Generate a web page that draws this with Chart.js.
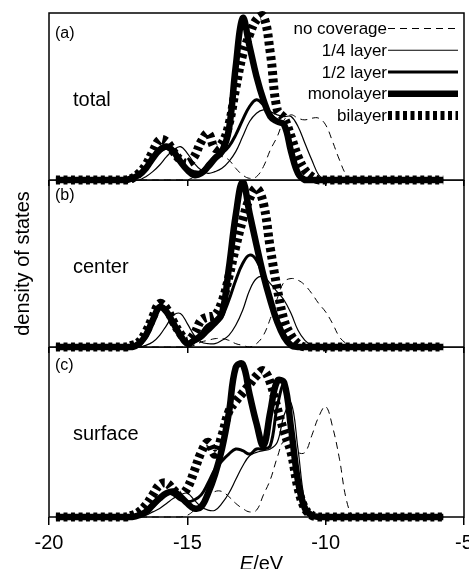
<!DOCTYPE html>
<html>
<head>
<meta charset="utf-8">
<script src="https://cdn.jsdelivr.net/npm/chart.js@4.4.1/dist/chart.umd.min.js"></script>
<style>
  html, body { margin: 0; padding: 0; background: #fff; }
  #wrap { position: relative; width: 469px; height: 569px; overflow: hidden; background: #fff; }
  canvas { position: absolute; left: 0; }
</style>
</head>
<body>
<div id="wrap">
  <canvas id="panelC" width="469" height="222" style="top:347px"></canvas>
  <canvas id="panelB" width="469" height="173" style="top:180px"></canvas>
  <canvas id="panelA" width="469" height="186" style="top:0px"></canvas>
</div>
<script>
// energy grid (eV)
var energies = [-19.75,
  -17.25, -17, -16.75, -16.5, -16.25, -16, -15.75, -15.5, -15.25, -15,
  -14.75, -14.5, -14.25, -14, -13.75, -13.5, -13.25, -13, -12.75, -12.5,
  -12.25, -12, -11.75, -11.5, -11.25, -11, -10.75, -10.5, -10.25, -10,
  -9.75, -9.5, -9.25, -9, -8.75,
  -5.75];

var seriesNames = ['no coverage', '1/4 layer', '1/2 layer', 'monolayer', 'bilayer'];

// (a) total
var totalNone    = [0, 0,0,0,0,0,0,0,0,0,0,      2,5,9,13,14,12,7,3,1,2,        8,18,26,36,39,37,36,37,37,33,  23,12,3,0,0, 0];
var totalQuarter = [0, 0,0,0,2,5,9,14,18,20,16,  10,6,4,5,7,11,17,26,35,40,     42,41,39,38,38,32,22,12,3,0,   0,0,0,0,0, 0];
var totalHalf    = [0, 0,1,3,6,12,17,19,16,11,7, 5,5,10,14,16,20,27,36,44,48,   45,40,35,33,17,4,0,0,0,0,      0,0,0,0,0, 0];
var totalMono    = [0, 0,1,3,7,13,18,20,17,11,6, 3,4,8,13,17,30,68,97,80,62,    48,38,35,33,17,4,0,0,0,0,      0,0,0,0,0, 0];
var totalBi      = [0, 0,1,4,9,17,24,23,17,12,10, 14,23,28,19,22,33,55,75,87,96, 98,76,42,37,26,14,6,2,0,0,    0,0,0,0,0, 0];

// (b) center
var centerNone    = [0, 0,0,0,0,0,0,0,0,0,0,      1,3,4,5,5,4,2,1,0,2,          7,17,29,39,41,40,37,32,26,21,  14,6,2,0,0, 0];
var centerQuarter = [0, 0,0,0,1,3,7,13,19,20,14,  7,3,2,2,4,7,13,22,34,41,      42,38,33,28,20,10,4,1,0,0,     0,0,0,0,0, 0];
var centerHalf    = [0, 0,0,2,7,15,23,20,13,7,3,  3,5,9,13,18,28,40,50,55,52,   42,29,16,7,2,0,0,0,0,0,        0,0,0,0,0, 0];
var centerMono    = [0, 0,0,2,7,16,24,21,14,7,2,  4,7,12,15,20,47,79,99,80,61,  43,28,15,6,1,0,0,0,0,0,        0,0,0,0,0, 0];
var centerBi      = [0, 0,1,3,9,18,26,23,15,8,4,  8,16,18,19,27,42,60,76,89,95, 86,59,35,16,7,2,0,0,0,0,       0,0,0,0,0, 0];

// (c) surface
var surfaceNone    = [0, 0,0,0,0,0,0,0,0,0,1,      4,8,12,15,15,12,8,5,3,4,       13,22,35,45,43,38,38,48,59,65, 53,34,10,0,0, 0];
var surfaceQuarter = [0, 0,0,0,1,3,5,8,11,13,14,   10,6,4,4,8,14,22,30,36,38,     39,40,44,60,67,40,9,2,0,0,     0,0,0,0,0, 0];
var surfaceHalf    = [0, 0,0,1,3,6,10,14,13,10,9,  10,13,20,28,33,37,40,39,37,40, 40,42,65,78,50,20,5,1,0,0,     0,0,0,0,0, 0];
var surfaceMono    = [0, 0,0,1,3,7,11,14,15,12,8,  5,6,14,25,40,61,88,90,72,55,   42,62,80,79,52,21,5,1,0,0,     0,0,0,0,0, 0];
var surfaceBi      = [0, 0,1,3,7,13,19,20,16,13,17, 27,38,44,37,48,62,68,73,78,83, 86,79,64,50,38,17,5,1,0,0,    0,0,0,0,0, 0];

var xTicks = [-20, -15, -10, -5];

Chart.defaults.font.family = '"Liberation Sans", Arial, Helvetica, sans-serif';
Chart.defaults.color = '#000';

var lineStyles = [
  { borderWidth: 1,   borderDash: [7, 5] },
  { borderWidth: 1.2, borderDash: [] },
  { borderWidth: 3,   borderDash: [] },
  { borderWidth: 6.5, borderDash: [] },
  { borderWidth: 9,   borderDash: [4, 3.5] }
];

function makeDatasets(list) {
  return list.map(function(values, i) {
    return {
      label: seriesNames[i],
      data: values.map(function(v, k) { return { x: energies[k], y: v }; }),
      borderColor: '#000',
      backgroundColor: '#000',
      borderWidth: lineStyles[i].borderWidth,
      borderDash: lineStyles[i].borderDash,
      borderJoinStyle: 'round',
      pointRadius: 0,
      tension: 0.4,
      fill: false,
      clip: false
    };
  });
}

var framePlugin = {
  id: 'frame',
  afterDraw: function(chart) {
    var a = chart.chartArea, c = chart.ctx;
    c.save();
    c.strokeStyle = '#000';
    c.lineWidth = 1.5;
    c.strokeRect(a.left, a.top, a.right - a.left, a.bottom - a.top);
    c.restore();
  }
};

var panelText = {
  id: 'panelText',
  afterDraw: function(chart, args, opts) {
    var a = chart.chartArea, c = chart.ctx;
    c.save();
    c.fillStyle = '#000';
    c.textBaseline = 'alphabetic';
    c.textAlign = 'left';
    c.font = '16px "Liberation Sans", Arial, sans-serif';
    c.fillText(opts.tag, a.left + 6, a.top + opts.tagY);
    c.font = '20px "Liberation Sans", Arial, sans-serif';
    c.fillText(opts.name, a.left + 24, a.top + 93);
    c.restore();
  }
};

var legendPlugin = {
  id: 'lineLegend',
  afterDraw: function(chart, args, opts) {
    if (!opts.show) return;
    var a = chart.chartArea, c = chart.ctx;
    c.save();
    c.font = '17px "Liberation Sans", Arial, sans-serif';
    c.textAlign = 'right';
    c.textBaseline = 'alphabetic';
    c.fillStyle = '#000';
    chart.data.datasets.forEach(function(ds, i) {
      var y = a.top + 15.5 + i * 21.75;
      c.fillText(ds.label, a.right - 77, y + 5.5);
      c.strokeStyle = '#000';
      c.lineWidth = ds.borderWidth;
      c.setLineDash(ds.borderDash);
      c.beginPath();
      c.moveTo(a.right - 76, y);
      c.lineTo(a.right - 6, y);
      c.stroke();
    });
    c.restore();
  }
};

var axisTitle = {
  id: 'axisTitle',
  afterDraw: function(chart, args, opts) {
    if (!opts.show) return;
    var a = chart.chartArea, c = chart.ctx;
    var x = (a.left + a.right) / 2 + 5, y = a.bottom + 53;
    c.save();
    c.fillStyle = '#000';
    c.textBaseline = 'alphabetic';
    c.textAlign = 'left';
    c.font = 'italic 20px "Liberation Sans", Arial, sans-serif';
    var w1 = c.measureText('E').width;
    c.font = '20px "Liberation Sans", Arial, sans-serif';
    var w2 = c.measureText('/eV').width;
    var x0 = x - (w1 + w2) / 2;
    c.font = 'italic 20px "Liberation Sans", Arial, sans-serif';
    c.fillText('E', x0, y);
    c.font = '20px "Liberation Sans", Arial, sans-serif';
    c.fillText('/eV', x0 + w1, y);
    c.restore();
  }
};

function makePanel(id, list, cfg) {
  return new Chart(document.getElementById(id), {
    type: 'line',
    data: { datasets: makeDatasets(list) },
    options: {
      responsive: false,
      animation: false,
      devicePixelRatio: 1,
      layout: { padding: { top: cfg.padTop, right: 5, left: 0, bottom: 0 } },
      plugins: {
        legend: { display: false },
        tooltip: { enabled: false },
        panelText: { tag: cfg.tag, tagY: cfg.tagY, name: cfg.name },
        lineLegend: { show: cfg.legend },
        axisTitle: { show: cfg.bottom }
      },
      scales: {
        x: {
          type: 'linear',
          min: -20,
          max: -5,
          afterBuildTicks: function(s) { s.ticks = xTicks.map(function(v) { return { value: v }; }); },
          ticks: { display: cfg.bottom, font: { size: 20 }, color: '#000', padding: 6, maxRotation: 0, autoSkip: false },
          grid: { drawOnChartArea: false, drawTicks: true, tickLength: cfg.tickLen, color: '#000', lineWidth: 1.5 },
          border: { display: false },
          afterFit: function(s) { s.height = cfg.axisH; s.paddingLeft = 0; s.paddingRight = 0; }
        },
        y: {
          min: 0,
          max: 100,
          ticks: { display: false },
          grid: { display: false },
          border: { display: false },
          title: {
            display: cfg.yTitle,
            text: 'density of states',
            font: { size: 20 },
            color: '#000',
            padding: { top: 11, bottom: 0 }
          },
          afterFit: function(s) { s.width = 49; }
        }
      }
    },
    plugins: [framePlugin, panelText, legendPlugin, axisTitle]
  });
}

makePanel('panelC', [surfaceNone, surfaceQuarter, surfaceHalf, surfaceMono, surfaceBi],
  { padTop: 0, tag: '(c)', tagY: 23, name: 'surface', legend: false, bottom: true, tickLen: 8, axisH: 52, yTitle: false });
makePanel('panelB', [centerNone, centerQuarter, centerHalf, centerMono, centerBi],
  { padTop: 0, tag: '(b)', tagY: 20, name: 'center', legend: false, bottom: false, tickLen: 6, axisH: 6, yTitle: true });
makePanel('panelA', [totalNone, totalQuarter, totalHalf, totalMono, totalBi],
  { padTop: 13, tag: '(a)', tagY: 25, name: 'total', legend: true, bottom: false, tickLen: 6, axisH: 6, yTitle: false });
</script>
</body>
</html>
